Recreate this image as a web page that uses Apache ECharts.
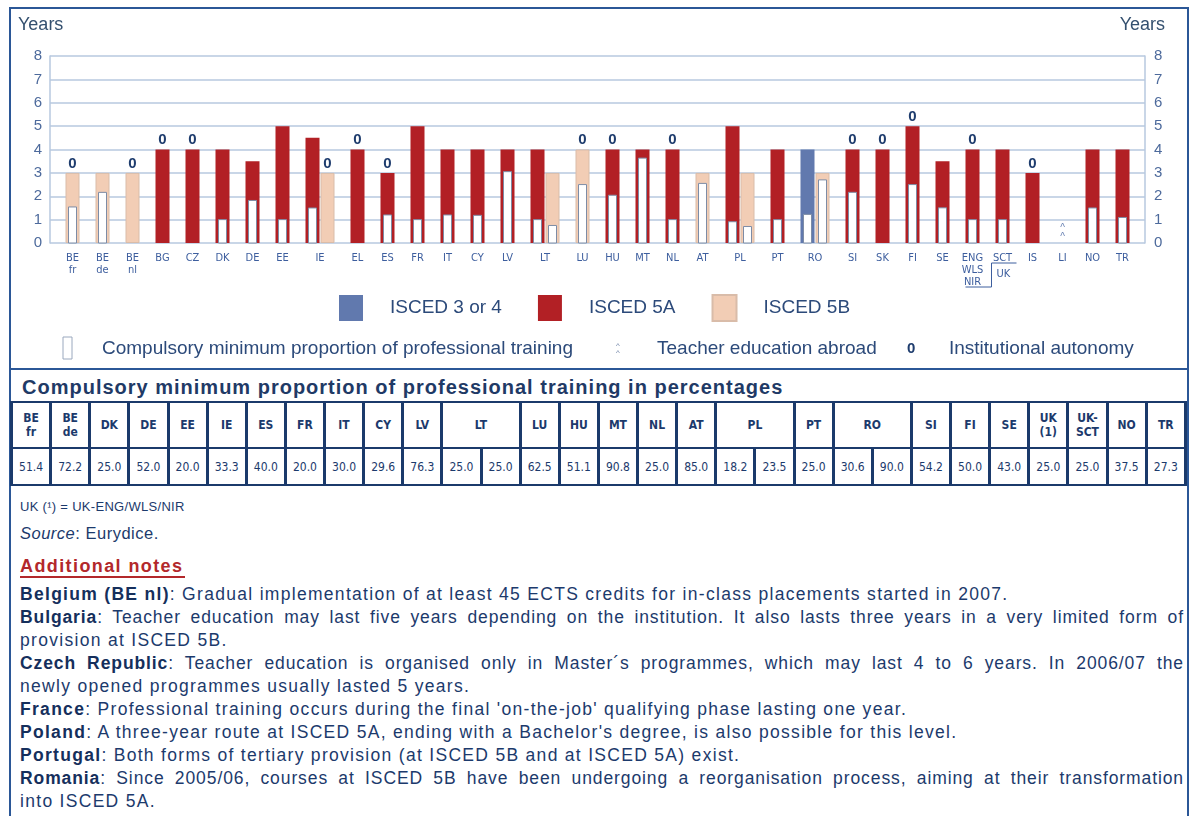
<!DOCTYPE html>
<html>
<head>
<meta charset="utf-8">
<script src="https://cdn.jsdelivr.net/npm/echarts@6/dist/echarts.min.js"></script>
<style>
  body { margin: 0; width: 1189px; height: 816px; overflow: hidden; background: #fff; position: relative;
         font-family: 'Liberation Sans', Arial, sans-serif; color: #1c3a6c; }
  .abs { position: absolute; }
  #tbl { border-collapse: collapse; table-layout: fixed; }
  #tbl td { border-left: 3px solid #1b3a6b; border-right: 3px solid #1b3a6b; border-top: 2px solid #1b3a6b;
            border-bottom: 2px solid #1b3a6b; text-align: center; padding: 0;
            font-family: 'DejaVu Sans Condensed', 'Liberation Sans', sans-serif; color: #1c3a6c; }
  #tbl tr.h td { height: 44px; font-weight: bold; font-size: 12px; line-height: 14px; }
  #tbl tr.v td { height: 35px; font-size: 12px; }
  .note { position: absolute; left: 20px; width: 1164px; font-size: 17.5px; line-height: 23px; letter-spacing: 1.3px; white-space: nowrap; }
  .note.j { text-align: justify; text-align-last: justify; white-space: normal; letter-spacing: 0.9px; }
  .note b { color: #152f5c; }
</style>
</head>
<body>
<div class="abs" style="left:9px;top:7px;width:1176px;height:900px;border:2px solid #2b5797;"></div>
<div id="chart" class="abs" style="left:0;top:0;width:1189px;height:369px;"></div>
<div class="abs" style="left:9px;top:368px;width:1180px;height:2px;background:#2b5797;"></div>
<div class="abs" style="left:22px;top:376px;font-weight:bold;font-size:20px;letter-spacing:1px;color:#1f3a66;">Compulsory minimum proportion of professional training in percentages</div>
<table id="tbl" class="abs" style="left:10px;top:401px;width:1177px;"></table>
<div class="abs" style="left:20px;top:499px;font-size:13px;letter-spacing:0.3px;">UK (¹) = UK-ENG/WLS/NIR</div>
<div class="abs" style="left:20px;top:524px;font-size:16.5px;letter-spacing:0.5px;"><i>Source</i>: Eurydice.</div>
<div class="abs" style="left:20px;top:556px;font-size:18px;letter-spacing:1.4px;font-weight:bold;color:#b3282b;border-bottom:2px solid #b3282b;padding-right:2px;line-height:20px;">Additional notes</div>
<div id="notes"></div>

<script>
// countries on the x axis
const countries = ['BE\nfr', 'BE\nde', 'BE\nnl', 'BG', 'CZ', 'DK', 'DE', 'EE', 'IE', 'EL', 'ES', 'FR', 'IT', 'CY', 'LV',
  'LT', 'LU', 'HU', 'MT', 'NL', 'AT', 'PL', 'PT', 'RO', 'SI', 'SK', 'FI', 'SE', 'ENG\nWLS\nNIR', 'SCT', 'IS', 'LI', 'NO', 'TR'];

// duration in years by level
const isced34 = [null, null, null, null, null, null, null, null, null, null, null, null, null, null, null,
  null, null, null, null, null, null, null, null, 4, null, null, null, null, null, null, null, null, null, null];
const isced5A = [null, null, null, 4, 4, 4, 3.5, 5, 4.5, 4, 3, 5, 4, 4, 4,
  4, null, 4, 4, 4, null, 5, 4, null, 4, 4, 5, 3.5, 4, 4, 3, null, 4, 4];
const isced5B = [3, 3, 3, null, null, null, null, null, 3, null, null, null, null, null, null,
  3, 4, null, null, null, 3, 3, null, 3, null, null, null, null, null, null, null, null, null, null];

// compulsory minimum proportion of professional training (%)
const train34 = [null, null, null, null, null, null, null, null, null, null, null, null, null, null, null,
  null, null, null, null, null, null, null, null, 30.6, null, null, null, null, null, null, null, null, null, null];
const train5A = [null, null, null, null, null, 25.0, 52.0, 20.0, 33.3, null, 40.0, 20.0, 30.0, 29.6, 76.3,
  25.0, null, 51.1, 90.8, 25.0, null, 18.2, 25.0, null, 54.2, null, 50.0, 43.0, 25.0, 25.0, null, null, 37.5, 27.3];
const train5B = [51.4, 72.2, null, null, null, null, null, null, null, null, null, null, null, null, null,
  25.0, 62.5, null, null, null, 85.0, 23.5, null, 90.0, null, null, null, null, null, null, null, null, null, null];

// institutional autonomy ("0") - which bar it sits on
const autonomy = ['5B', '', '5B', '5A', '5A', '', '', '', '5B', '5A', '5A', '', '', '', '',
  '', '5B', '5A', '', '5A', '', '', '', '', '5A', '5A', '5A', '', '5A', '', '5A', '', '', ''];
// teacher education abroad
const abroad = ['LI'];

// table below the chart
const tableHeads = ['BE<br>fr', 'BE<br>de', 'DK', 'DE', 'EE', 'IE', 'ES', 'FR', 'IT', 'CY', 'LV', 'LT', 'LU', 'HU',
  'MT', 'NL', 'AT', 'PL', 'PT', 'RO', 'SI', 'FI', 'SE', 'UK<br>(1)', 'UK-<br>SCT', 'NO', 'TR'];
const tableValues = [['51.4'], ['72.2'], ['25.0'], ['52.0'], ['20.0'], ['33.3'], ['40.0'], ['20.0'], ['30.0'],
  ['29.6'], ['76.3'], ['25.0', '25.0'], ['62.5'], ['51.1'], ['90.8'], ['25.0'], ['85.0'], ['18.2', '23.5'],
  ['25.0'], ['30.6', '90.0'], ['54.2'], ['50.0'], ['43.0'], ['25.0'], ['25.0'], ['37.5'], ['27.3']];

const notes = [
  ['', '<b>Belgium (BE nl)</b>: Gradual implementation of at least 45 ECTS credits for in-class placements started in 2007.'],
  ['j', '<b>Bulgaria</b>: Teacher education may last five years depending on the institution. It also lasts three years in a very limited form of'],
  ['', 'provision at ISCED 5B.'],
  ['j', '<b>Czech Republic</b>: Teacher education is organised only in Master´s programmes, which may last 4 to 6 years. In 2006/07 the'],
  ['', 'newly opened programmes usually lasted 5 years.'],
  ['', '<b>France</b>: Professional training occurs during the final \'on-the-job\' qualifying phase lasting one year.'],
  ['', '<b>Poland</b>: A three-year route at ISCED 5A, ending with a Bachelor\'s degree, is also possible for this level.'],
  ['', '<b>Portugal</b>: Both forms of tertiary provision (at ISCED 5B and at ISCED 5A) exist.'],
  ['j', '<b>Romania</b>: Since 2005/06, courses at ISCED 5B have been undergoing a reorganisation process, aiming at their transformation'],
  ['', 'into ISCED 5A.']
];

// --- table
let h = '<tr class="h">' + tableHeads.map((t, i) => `<td colspan="${tableValues[i].length}">${t}</td>`).join('') + '</tr>';
h += '<tr class="v">' + tableValues.flat().map(v => `<td>${v}</td>`).join('') + '</tr>';
document.getElementById('tbl').innerHTML = h;

document.getElementById('notes').innerHTML = notes.map((n, i) =>
  `<div class="note ${n[0]}" style="top:${583 + i * 23}px">${n[1]}</div>`).join('');

// --- bar slots: one unit per bar, one unit gap before each country
const levels = [['34', isced34, train34], ['5A', isced5A, train5A], ['5B', isced5B, train5B]];
const slots = [];
const labelPos = [];
let pos = 0;
countries.forEach((c, i) => {
  pos += 1;
  const start = pos;
  levels.forEach(([lv, yrs, tr]) => {
    if (yrs[i] == null) return;
    slots.push({ lv, x: pos + 0.5, years: yrs[i], train: tr[i], auto: autonomy[i] === lv });
    pos += 1;
  });
  if (pos === start) pos += 1;
  labelPos.push((start + pos) / 2);
});
const xMax = pos + 1;
const labelMap = {};
labelPos.forEach((p, i) => { labelMap[p.toFixed(1)] = countries[i]; });

const barData = lv => slots.filter(s => s.lv === lv).map(s => ({
  value: [s.x, s.years],
  label: { show: s.auto }
}));
const trainData = slots.filter(s => s.train != null).map(s => [s.x, s.years * s.train / 100]);
const abroadData = abroad.map(c => [labelPos[countries.indexOf(c)], 0]);

const axisBlue = '#4d6a9c';
const narrow = "'DejaVu Sans Condensed', 'Liberation Sans', sans-serif";
const barLabel = { show: false, position: 'top', distance: 2, formatter: '0', fontWeight: 'bold', fontSize: 15,
  color: '#1f3d6e', fontFamily: 'Liberation Sans' };

const chart = echarts.init(document.getElementById('chart'));
chart.setOption({
  animation: false,
  textStyle: { fontFamily: 'Liberation Sans' },
  grid: { left: 50, right: 44, top: 56, height: 187 },
  legend: {
    data: ['ISCED 3 or 4', 'ISCED 5A', 'ISCED 5B'],
    selectedMode: false,
    icon: 'rect',
    left: 334, top: 289,
    itemWidth: 24, itemHeight: 26, itemGap: 36,
    textStyle: { fontSize: 19, color: '#2c4a7a', padding: [0, 0, 0, 22] }
  },
  xAxis: {
    type: 'value', min: 0, max: xMax,
    splitLine: { show: false }, axisLine: { show: false }, axisTick: { show: false },
    axisLabel: {
      customValues: labelPos,
      formatter: v => labelMap[v.toFixed(1)] || '',
      fontFamily: narrow, fontSize: 11, lineHeight: 12, color: '#3d5e9e',
      margin: 9, verticalAlign: 'top', hideOverlap: false
    }
  },
  yAxis: [0, 1].map(k => ({
    type: 'value', min: 0, max: 8, interval: 1, position: k ? 'right' : 'left',
    axisLine: { show: true, lineStyle: { color: '#b7c9df', width: 1.5 } },
    axisTick: { show: false },
    splitLine: { show: k === 0, lineStyle: { color: '#b7c9df', width: 1.5 } },
    axisLabel: { fontSize: 15, color: axisBlue, margin: k ? 9 : 8 }
  })),
  series: [
    { name: 'ISCED 3 or 4', type: 'bar', barWidth: 14, barGap: '-100%', data: barData('34'),
      itemStyle: { color: '#6179ae' }, label: barLabel },
    { name: 'ISCED 5A', type: 'bar', barWidth: 14, barGap: '-100%', data: barData('5A'),
      itemStyle: { color: '#b22025' }, label: barLabel },
    { name: 'ISCED 5B', type: 'bar', barWidth: 14, barGap: '-100%', data: barData('5B'),
      itemStyle: { color: '#f2cdb5', borderColor: '#d9bca9', borderWidth: 1 }, label: barLabel },
    { name: 'training', type: 'custom', z: 5, data: trainData,
      renderItem: (params, api) => {
        const b = api.coord([api.value(0), 0]);
        const t = api.coord([api.value(0), api.value(1)]);
        return { type: 'rect', shape: { x: b[0] - 4, y: t[1], width: 8, height: b[1] - t[1] },
          style: { fill: '#fff', stroke: '#7d8ca6', lineWidth: 1 } };
      } },
    { name: 'abroad', type: 'scatter', data: abroadData, symbolSize: 0.1, z: 6,
      label: { show: true, position: 'top', distance: 1, formatter: '^\n^', fontSize: 10, lineHeight: 9, color: '#3d5e9e' } }
  ]
});

// "Years" titles, UK bracket, second legend row
const engX = chart.convertToPixel({ xAxisIndex: 0 }, labelPos[countries.indexOf('ENG\nWLS\nNIR')]);
const sctX = chart.convertToPixel({ xAxisIndex: 0 }, labelPos[countries.indexOf('SCT')]);
const midX = (engX + sctX) / 2 + 4;
const txt = '#2c4a7a';
chart.setOption({
  graphic: [
    { type: 'text', left: 18, top: 16, style: { text: 'Years', fontSize: 18, fill: '#34506f' } },
    { type: 'text', right: 24, top: 16, style: { text: 'Years', fontSize: 18, fill: '#34506f' } },
    { type: 'polyline', shape: { points: [[engX - 7, 287], [midX, 287], [midX, 263], [sctX + 14, 263]] },
      style: { stroke: '#3d5e9e', lineWidth: 1, fill: null } },
    { type: 'text', x: midX + 5, y: 269, style: { text: 'UK', fontSize: 11, fontFamily: narrow, fill: '#3d5e9e' } },
    { type: 'rect', shape: { x: 63, y: 337, width: 9, height: 22 }, style: { fill: '#fff', stroke: '#9aa8be', lineWidth: 1 } },
    { type: 'text', x: 102, y: 349, style: { text: 'Compulsory minimum proportion of professional training', fontSize: 19, fill: txt, verticalAlign: 'middle' } },
    { type: 'text', x: 616, y: 349, style: { text: '^\n^', fontSize: 8, lineHeight: 7, fill: '#6a7fa3', verticalAlign: 'middle' } },
    { type: 'text', x: 657, y: 349, style: { text: 'Teacher education abroad', fontSize: 19, fill: txt, verticalAlign: 'middle' } },
    { type: 'text', x: 907, y: 349, style: { text: '0', fontSize: 15, fontWeight: 'bold', fill: '#1f3d6e', verticalAlign: 'middle' } },
    { type: 'text', x: 949, y: 349, style: { text: 'Institutional autonomy', fontSize: 19, fill: txt, verticalAlign: 'middle' } }
  ]
});
</script>
</body>
</html>
